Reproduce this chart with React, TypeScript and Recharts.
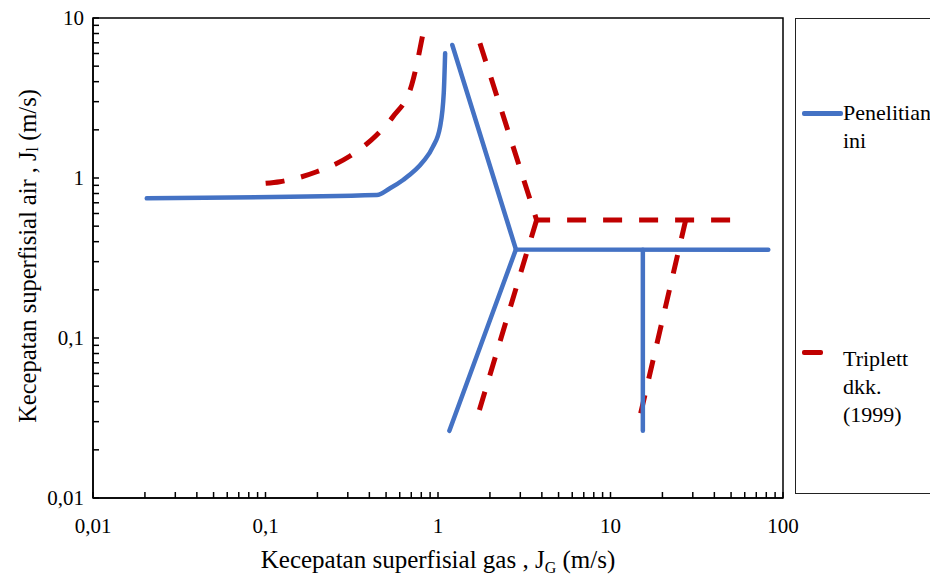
import { LineChart, Line, XAxis, YAxis, ReferenceArea, Label } from "recharts";

// Penelitian ini (blue, solid) — J_G, J_L in m/s
const penelitianKurva = [
  { jg: 0.0205, jl: 0.746 },
  { jg: 0.442, jl: 0.783 },
  { jg: 0.527, jl: 0.862 },
  { jg: 0.627, jl: 0.972 },
  { jg: 0.819, jl: 1.264 },
  { jg: 0.935, jl: 1.57 },
  { jg: 1.028, jl: 2.09 },
  { jg: 1.08, jl: 3.4 },
  { jg: 1.1, jl: 6.02 },
];
const penelitianAtas = [
  { jg: 1.21, jl: 6.78 },
  { jg: 2.83, jl: 0.358 },
  { jg: 82.2, jl: 0.356 },
];
const penelitianBawah = [
  { jg: 1.164, jl: 0.0263 },
  { jg: 2.83, jl: 0.358 },
];
const penelitianTegak = [
  { jg: 15.4, jl: 0.356 },
  { jg: 15.4, jl: 0.0263 },
];

// Triplett dkk. (1999) (red, dashed)
const triplettKurva = [
  { jg: 0.1002, jl: 0.927 },
  { jg: 0.121, jl: 0.948 },
  { jg: 0.198, jl: 1.094 },
  { jg: 0.309, jl: 1.372 },
  { jg: 0.441, jl: 1.858 },
  { jg: 0.548, jl: 2.415 },
  { jg: 0.704, jl: 3.82 },
  { jg: 0.822, jl: 8.21 },
];
const triplettAtas = [
  { jg: 1.75, jl: 6.95 },
  { jg: 3.73, jl: 0.547 },
  { jg: 57.6, jl: 0.547 },
];
const triplettBawah = [
  { jg: 1.738, jl: 0.0355 },
  { jg: 3.73, jl: 0.547 },
];
const triplettKanan = [
  { jg: 27.3, jl: 0.547 },
  { jg: 14.96, jl: 0.0338 },
];

const xTicks = [
  0.01, 0.02, 0.03, 0.04, 0.05, 0.06, 0.07, 0.08, 0.09,
  0.1, 0.2, 0.3, 0.4, 0.5, 0.6, 0.7, 0.8, 0.9,
  1, 2, 3, 4, 5, 6, 7, 8, 9,
  10, 20, 30, 40, 50, 60, 70, 80, 90, 100,
];
const yTicks = [
  0.01, 0.02, 0.03, 0.04, 0.05, 0.06, 0.07, 0.08, 0.09,
  0.1, 0.2, 0.3, 0.4, 0.5, 0.6, 0.7, 0.8, 0.9,
  1, 2, 3, 4, 5, 6, 7, 8, 9, 10,
];
const xMajors = [0.01, 0.1, 1, 10, 100];
const xMajorLabels = ["0,01", "0,1", "1", "10", "100"];
const yMajors = [0.01, 0.1, 1, 10];
const yMajorLabels = ["0,01", "0,1", "1", "10"];

const BLUE = "#4472C4";
const RED = "#C00000";
const FONT = "Liberation Serif";

const XTick = (props: any) => {
  const { x, y, payload } = props;
  const i = xMajors.indexOf(payload.value);
  return (
    <g>
      <line x1={x} x2={x} y1={y} y2={y - 6} stroke="#000" strokeWidth={1.5} />
      {i >= 0 && (
        <text x={x} y={y + 35} textAnchor="middle" fontSize={21} style={{ fontFamily: FONT }} fill="#000">
          {xMajorLabels[i]}
        </text>
      )}
    </g>
  );
};

const YTick = (props: any) => {
  const { x, y, payload } = props;
  const i = yMajors.indexOf(payload.value);
  return (
    <g>
      <line x1={x} x2={x + 6} y1={y} y2={y} stroke="#000" strokeWidth={1.5} />
      {i >= 0 && (
        <text x={x - 9} y={y + 7} textAnchor="end" fontSize={21} style={{ fontFamily: FONT }} fill="#000">
          {yMajorLabels[i]}
        </text>
      )}
    </g>
  );
};

const XTitle = (props: any) => {
  const vb = props.viewBox;
  return (
    <text x={vb.x + vb.width / 2} y={vb.y + 70} textAnchor="middle" fontSize={25} style={{ fontFamily: FONT }} fill="#000">
      <tspan>Kecepatan superfisial gas , J</tspan>
      <tspan fontSize={16} dy={5}>G</tspan>
      <tspan dy={-5}> (m/s)</tspan>
    </text>
  );
};

const YTitle = (props: any) => {
  const vb = props.viewBox;
  const cx = 27;
  const cy = vb.y + vb.height / 2 - 2;
  return (
    <text x={cx} y={cy} textAnchor="middle" dominantBaseline="central" fontSize={24.5} style={{ fontFamily: FONT }} fill="#000" transform={`rotate(-90 ${cx} ${cy})`}>
      <tspan>Kecepatan superfisial air , J</tspan>
      <tspan fontSize={16} dy={5}>l</tspan>
      <tspan dy={-5}> (m/s)</tspan>
    </text>
  );
};

const solid = { stroke: BLUE, strokeWidth: 4.5, strokeLinecap: "round" as const };
const dashed = { stroke: RED, strokeWidth: 5, strokeDasharray: "19 17" };

export default function App() {
  return (
    <div style={{ position: "absolute", left: 0, top: 0, width: 930, height: 576, overflow: "hidden", background: "#fff", fontFamily: FONT }}>
      <LineChart width={930} height={576} margin={{ top: 18, right: 147, bottom: 8, left: 33 }} style={{ fontFamily: FONT }}>
        <XAxis
          dataKey="jg"
          type="number"
          scale="log"
          domain={[0.01, 100]}
          allowDataOverflow
          ticks={xTicks}
          interval={0}
          tick={<XTick />}
          tickLine={false}
          tickSize={0}
          tickMargin={0}
          height={70}
          axisLine={{ stroke: "#000", strokeWidth: 1.5 }}
        >
          <Label content={<XTitle />} />
        </XAxis>
        <YAxis
          dataKey="jl"
          type="number"
          scale="log"
          domain={[0.01, 10]}
          allowDataOverflow
          ticks={yTicks}
          interval={0}
          tick={<YTick />}
          tickLine={false}
          tickSize={0}
          tickMargin={0}
          width={60}
          axisLine={{ stroke: "#000", strokeWidth: 1.5 }}
        >
          <Label content={<YTitle />} />
        </YAxis>
        <ReferenceArea x1={0.01} x2={100} y1={0.01} y2={10} fill="none" stroke="#000" strokeWidth={1.5} />
        <Line data={triplettKurva} dataKey="jl" type="monotone" dot={false} activeDot={false} isAnimationActive={false} {...dashed} />
        <Line data={triplettAtas} dataKey="jl" type="linear" dot={false} activeDot={false} isAnimationActive={false} {...dashed} />
        <Line data={triplettBawah} dataKey="jl" type="linear" dot={false} activeDot={false} isAnimationActive={false} {...dashed} />
        <Line data={triplettKanan} dataKey="jl" type="linear" dot={false} activeDot={false} isAnimationActive={false} {...dashed} />
        <Line data={penelitianKurva} dataKey="jl" type="monotone" dot={false} activeDot={false} isAnimationActive={false} {...solid} />
        <Line data={penelitianAtas} dataKey="jl" type="linear" dot={false} activeDot={false} isAnimationActive={false} {...solid} />
        <Line data={penelitianBawah} dataKey="jl" type="linear" dot={false} activeDot={false} isAnimationActive={false} {...solid} />
        <Line data={penelitianTegak} dataKey="jl" type="linear" dot={false} activeDot={false} isAnimationActive={false} {...solid} />
      </LineChart>
      <div
        style={{
          position: "absolute",
          left: 795,
          top: 18,
          width: 150,
          height: 474,
          border: "1.5px solid #222",
          fontFamily: FONT,
          fontSize: 22,
          lineHeight: "28px",
          color: "#000",
        }}
      >
        <div style={{ position: "absolute", left: 6, top: 92, width: 41, height: 4.5, background: BLUE, borderRadius: 2 }} />
        <div style={{ position: "absolute", left: 47, top: 80 }}>
          Penelitian
          <br />
          ini
        </div>
        <div style={{ position: "absolute", left: 6, top: 331, width: 21, height: 5, background: RED, borderRadius: 2 }} />
        <div style={{ position: "absolute", left: 47, top: 326 }}>
          Triplett
          <br />
          dkk.
          <br />
          (1999)
        </div>
      </div>
    </div>
  );
}
